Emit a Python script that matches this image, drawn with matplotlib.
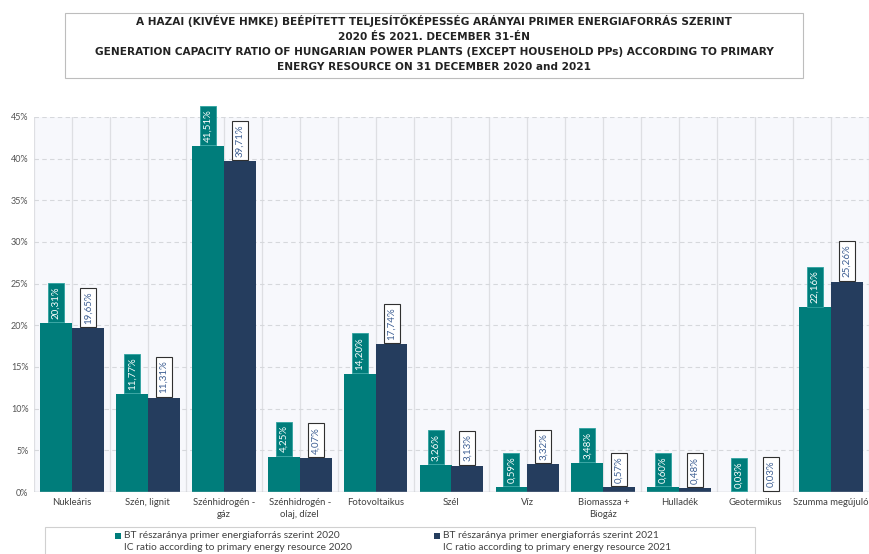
import matplotlib.pyplot as plt
from matplotlib.patches import Rectangle

categories = ["Nukleáris", "Szén, lignit", "Szénhidrogén -\ngáz",
              "Szénhidrogén -\nolaj, dízel", "Fotovoltaikus", "Szél", "Víz",
              "Biomassza +\nBiogáz", "Hulladék", "Geotermikus",
              "Szumma megújuló"]
share_2020 = [20.31, 11.77, 41.51, 4.25, 14.20, 3.26, 0.59, 3.48, 0.60, 0.03, 22.16]
share_2021 = [19.65, 11.31, 39.71, 4.07, 17.74, 3.13, 3.32, 0.57, 0.48, 0.03, 25.26]
yticks = [0, 5, 10, 15, 20, 25, 30, 35, 40, 45]

title_lines = [
    "A HAZAI (KIVÉVE HMKE) BEÉPÍTETT TELJESÍTŐKÉPESSÉG ARÁNYAI PRIMER ENERGIAFORRÁS SZERINT",
    "2020 ÉS 2021. DECEMBER 31-ÉN",
    "GENERATION CAPACITY RATIO OF HUNGARIAN POWER PLANTS (EXCEPT HOUSEHOLD PPs) ACCORDING TO PRIMARY",
    "ENERGY RESOURCE ON 31 DECEMBER 2020 and 2021",
]
legend_2020 = ["BT részaránya primer energiaforrás szerint 2020",
               "IC ratio according to primary energy resource 2020"]
legend_2021 = ["BT részaránya primer energiaforrás szerint 2021",
               "IC ratio according to primary energy resource 2021"]

TEAL = "#007D7B"
NAVY = "#253D5E"
LABEL_BLUE = "#3E5F93"
TXT = "#404040"
FONT = ["Lato", "DejaVu Sans"]

W, H = 869, 554
fig = plt.figure(figsize=(W / 100, H / 100), dpi=100)
ax = fig.add_axes([34 / W, 1 - 492 / H, (W - 34) / W, (492 - 117) / H])
ax.set_facecolor("#F7F8FC")

x = list(range(len(categories)))
bw = 0.42
ax.bar([i - bw / 2 for i in x], share_2020, bw, color=TEAL, zorder=3)
ax.bar([i + bw / 2 for i in x], share_2021, bw, color=NAVY, zorder=3)

# grid: solid verticals at every half category, dashed horizontals
for k in range(2 * len(categories) + 1):
    ax.axvline(-0.5 + k * 0.5, color="#DEDFE3", lw=0.9, zorder=1)
for t in yticks[1:]:
    ax.axhline(t, color="#D6D8DC", lw=0.8, ls=(0, (4, 3)), zorder=1)
ax.axhline(0, color="#BFC1C5", lw=1.0, zorder=4)

ax.set_xlim(-0.5, len(categories) - 0.5)
ax.set_ylim(0, 45)
ax.set_yticks(yticks)
ax.set_yticklabels([f"{t}%" for t in yticks], fontsize=6.5, color="#555555",
                   family=FONT)
ax.set_xticks(x)
ax.set_xticklabels(categories, fontsize=6.8, color=TXT, family=FONT,
                   linespacing=1.5)
ax.tick_params(length=0, pad=4)
for s in ax.spines.values():
    s.set_visible(False)

# value labels above the bars
for i, (a, b) in enumerate(zip(share_2020, share_2021)):
    ax.annotate(f"{a:.2f}%".replace(".", ","), (i - bw / 2, a),
                xytext=(0, 3.0), textcoords="offset points",
                rotation=90, ha="center", va="bottom", fontsize=7,
                color="white", family=FONT, zorder=5, annotation_clip=False,
                bbox=dict(boxstyle="square,pad=0.36", fc=TEAL,
                          ec="#2FA3A0", lw=0.6))
    ax.annotate(f"{b:.2f}%".replace(".", ","), (i + bw / 2, b),
                xytext=(0, 3.2), textcoords="offset points",
                rotation=90, ha="center", va="bottom", fontsize=7,
                color=LABEL_BLUE, family=FONT, zorder=5, annotation_clip=False,
                bbox=dict(boxstyle="square,pad=0.36", fc="white",
                          ec="#303030", lw=0.8))

# title box
fig.patches.append(Rectangle((65 / W, 1 - 78 / H), (803 - 65) / W, 65 / H,
                             transform=fig.transFigure, fill=False,
                             ec="#BDBDBD", lw=0.8))
for j, line in enumerate(title_lines):
    fig.text(434 / W, 1 - (21 + j * 15.5) / H, line, ha="center", va="center",
             fontsize=7.6, fontweight="bold", color="#222222",
             family="DejaVu Sans")

# legend box
fig.patches.append(Rectangle((45 / W, -0.01), (755 - 45) / W, 1 - 527 / H + 0.01,
                             transform=fig.transFigure, fill=False,
                             ec="#D0D0D0", lw=0.8))
for mx, color, lines in [(118, TEAL, legend_2020), (437, NAVY, legend_2021)]:
    fig.patches.append(Rectangle(((mx - 3) / W, 1 - 539 / H), 6 / W, 6 / H,
                                 transform=fig.transFigure, fc=color, ec="none"))
    fig.text((mx + 6) / W, 1 - 536 / H, lines[0], ha="left", va="center",
             fontsize=7.3, color=TXT, family=FONT)
    fig.text((mx + 6) / W, 1 - 548 / H, lines[1], ha="left", va="center",
             fontsize=7.3, color=TXT, family=FONT)

fig.savefig("out.png", dpi=100, facecolor="white")
